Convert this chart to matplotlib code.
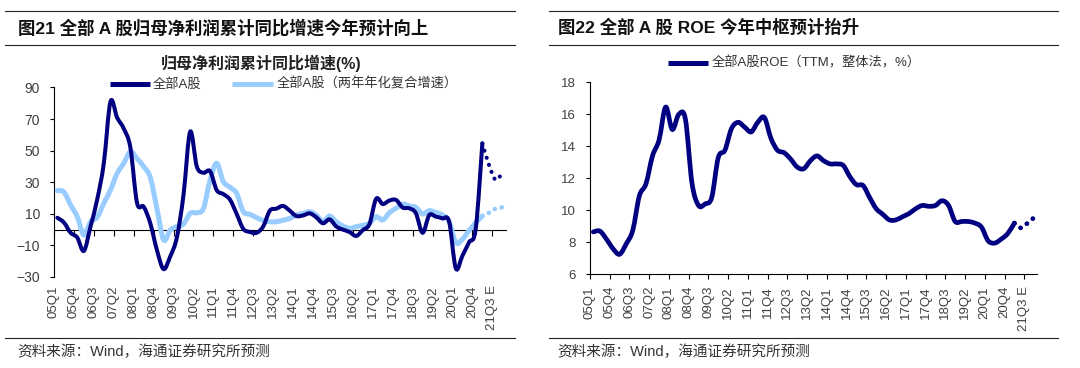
import numpy as np
import matplotlib
matplotlib.use("Agg")
import matplotlib.pyplot as plt
from matplotlib.path import Path
from matplotlib.patches import PathPatch
from matplotlib.lines import Line2D

plt.rcParams['font.family'] = ['Liberation Sans', 'Noto Sans CJK SC']

# quarters 05Q1 .. 21Q4, the last three are forecasts
quarters = []
for yr in range(5, 22):
    for q in range(1, 5):
        quarters.append(f"{yr:02d}Q{q}")
for i in (65, 66, 67):
    quarters[i] += " E"

# 全部A股 归母净利润累计同比增速 (05Q1..21Q1)
profit_yoy = [7.5, 4.5, -2, -5, -13.5, 2, 19, 42, 81, 71, 64, 52, 17, 14.5, 4, -13,
              -25, -17, -5, 22, 62, 40, 36, 37, 25, 22.5, 19, 10, 0.5, -1.5, -2, 2,
              12, 13.3, 15, 12, 8.6, 9, 10.3, 7.8, 4, 6.5, 2, 0, -1.5, -4, -0.3, 3.5,
              19.5, 16.2, 18.4, 18.8, 14, 13.5, 10.3, -2, 9.2, 8.2, 7.1, 5, -24.5, -16.5, -8, 0.5,
              54.6]
profit_yoy_fc = [54.6, 41, 31.5, 36]          # 21Q1 .. 21Q4 E
# 两年年化复合增速
profit_cagr = [24.7, 23.8, 15.6, 8.2, -3.4, 5, 7.8, 16.7, 25, 35.6, 42, 49.4, 45, 40, 33, 13.3,
               -6.5, -0.3, 1.9, 3.5, 10.3, 10.7, 13.4, 31.4, 42, 30.4, 26.8, 23, 11.4, 9.7, 7.6, 5.7,
               5, 5, 6, 7.1, 9.2, 10.3, 11.4, 9.2, 5, 8.6, 5, 2.3, 0.8, 1.9, 2.7, 4,
               8.2, 6.1, 10.7, 13.5, 16.2, 15, 14.1, 9.9, 12, 10.9, 9.2, 5, -8.2, -6.1, -0.6, 4.4,
               8.6]
profit_cagr_fc = [8.6, 10.7, 13.3, 14.1]
# 全部A股ROE (TTM, 整体法)
roe = [8.65, 8.7, 8.2, 7.6, 7.25, 7.9, 8.75, 10.9, 11.65, 13.4, 14.4, 16.45, 15.05, 16, 15.7, 11.7,
       10.3, 10.4, 10.8, 13.3, 13.75, 15.1, 15.5, 15.2, 14.9, 15.5, 15.8, 14.5, 13.75, 13.6, 13.2, 12.7,
       12.6, 13.1, 13.4, 13.1, 12.9, 12.9, 12.8, 12.1, 11.6, 11.55, 10.8, 10.1, 9.75, 9.4, 9.4, 9.6,
       9.8, 10.1, 10.3, 10.25, 10.3, 10.6, 10.3, 9.3, 9.3, 9.3, 9.2, 8.95, 8.1, 7.95, 8.2, 8.55,
       9.2]
roe_fc = [9.2, 8.9, 9.2, 9.55]

NAVY = '#000080'
LIGHT = '#99CCFF'
GREY = '#404040'

x_act = np.arange(len(profit_yoy)) + 0.5
x_fc = np.arange(64, 68) + 0.5
tick_pos = list(range(0, 67, 3))
tick_lab = [quarters[i] for i in tick_pos]


def smooth_path(x, y):
    # excel style smoothed line as cubic bezier segments
    n = len(x)
    verts = [(x[0], y[0])]
    codes = [Path.MOVETO]
    for i in range(n - 1):
        a = max(i - 1, 0)
        b = min(i + 2, n - 1)
        c1 = (x[i] + (x[i + 1] - x[a]) / 6, y[i] + (y[i + 1] - y[a]) / 6)
        c2 = (x[i + 1] - (x[b] - x[i]) / 6, y[i + 1] - (y[b] - y[i]) / 6)
        verts += [c1, c2, (x[i + 1], y[i + 1])]
        codes += [Path.CURVE4] * 3
    return Path(verts, codes)


def draw_line(ax, x, y, color, lw, ls='-', z=3):
    p = PathPatch(smooth_path(list(x), list(y)), fill=False, edgecolor=color, lw=lw,
                  linestyle=ls, capstyle='round', joinstyle='round', zorder=z)
    ax.add_patch(p)


fig = plt.figure(figsize=(10.8, 3.68), dpi=100)


def fx(px):
    return px / 1080


def fy(py):
    return 1 - py / 368


def hline(x0, x1, y):
    fig.add_artist(Line2D([fx(x0), fx(x1)], [fy(y), fy(y)], color='#222222', lw=0.8,
                          transform=fig.transFigure))


# title bars and footers
for x0, x1 in [(5, 515), (549, 1058)]:
    hline(x0, x1, 10.7)
    hline(x0, x1, 45)
    hline(x0, x1, 338)
fig.text(fx(18), fy(27.5), "图21 全部 A 股归母净利润累计同比增速今年预计向上", fontsize=12.5,
         fontweight='bold', va='center', ha='left', color='#111111')
fig.text(fx(558), fy(27.5), "图22 全部 A 股 ROE 今年中枢预计抬升", fontsize=12.5,
         fontweight='bold', va='center', ha='left', color='#111111')
for x0 in (17, 557):
    fig.text(fx(x0), fy(352), "资料来源：Wind，海通证券研究所预测", fontsize=10.5,
             va='center', ha='left', color='#333333')

# ---------------- left chart ----------------
ax1 = fig.add_axes([fx(54), fy(277), 451.6 / 1080, 189.5 / 368])
ax1.set_xlim(0, 68)
ax1.set_ylim(-30, 90)
ax1.set_yticks(range(-30, 91, 20))
for s in ('top', 'right'):
    ax1.spines[s].set_visible(False)
ax1.spines['bottom'].set_position(('data', 0))
ax1.spines['bottom'].set_color('black')
ax1.spines['left'].set_color('black')
ax1.set_xticks(tick_pos)
ax1.tick_params(axis='x', direction='out', length=4.5, width=0.8, labelbottom=False)
ax1.tick_params(axis='y', direction='out', length=3, width=0.8, pad=7, labelsize=10,
                labelcolor=GREY)
sec = ax1.secondary_xaxis('bottom')
sec.set_xticks(tick_pos, tick_lab)
sec.spines['bottom'].set_visible(False)
sec.tick_params(length=0, pad=6, labelsize=9.5, labelcolor=GREY, rotation=90)

draw_line(ax1, x_act, profit_cagr, LIGHT, 3.6)
draw_line(ax1, x_fc, profit_cagr_fc, LIGHT, 3.3, ls=(0, (0.05, 1.5)))
draw_line(ax1, x_act, profit_yoy, NAVY, 2.9, z=4)
draw_line(ax1, x_fc, profit_yoy_fc, NAVY, 2.9, ls=(0, (0.05, 1.8)), z=4)

fig.text(fx(261), fy(63), "归母净利润累计同比增速(%)", fontsize=11.5, fontweight='bold',
         ha='center', va='center', color='#222222')
fig.add_artist(Line2D([fx(110), fx(150)], [fy(84), fy(84)], color=NAVY, lw=3.6,
                      solid_capstyle='butt', transform=fig.transFigure))
fig.text(fx(153), fy(84), "全部A股", fontsize=9.5, ha='left', va='center', color='#333333')
fig.add_artist(Line2D([fx(232), fx(273)], [fy(84), fy(84)], color=LIGHT, lw=3.6,
                      solid_capstyle='butt', transform=fig.transFigure))
fig.text(fx(277), fy(84), "全部A股（两年年化复合增速）", fontsize=9.5, ha='left', va='center',
         color='#333333')

# ---------------- right chart ----------------
ax2 = fig.add_axes([fx(590), fy(274.3), 447.4 / 1080, 192 / 368])
ax2.set_xlim(0, 68)
ax2.set_ylim(6, 18)
ax2.set_yticks(range(6, 19, 2))
for s in ('top', 'right'):
    ax2.spines[s].set_visible(False)
ax2.spines['bottom'].set_color('black')
ax2.spines['left'].set_color('black')
ax2.set_xticks(tick_pos, tick_lab, rotation=90)
ax2.tick_params(axis='x', direction='out', length=3.5, width=0.8, pad=5, labelsize=9.5,
                labelcolor=GREY)
ax2.tick_params(axis='y', direction='out', length=3, width=0.8, pad=7, labelsize=9.5,
                labelcolor=GREY)

draw_line(ax2, x_act, roe, NAVY, 3.4)
draw_line(ax2, x_fc, roe_fc, NAVY, 3.4, ls=(0, (0.05, 1.6)))

fig.add_artist(Line2D([fx(668), fx(708)], [fy(63), fy(63)], color=NAVY, lw=3.6,
                      solid_capstyle='butt', transform=fig.transFigure))
fig.text(fx(712), fy(63), "全部A股ROE（TTM，整体法，%）", fontsize=9.5, ha='left', va='center',
         color='#333333')

fig.savefig("out.png", dpi=100)
